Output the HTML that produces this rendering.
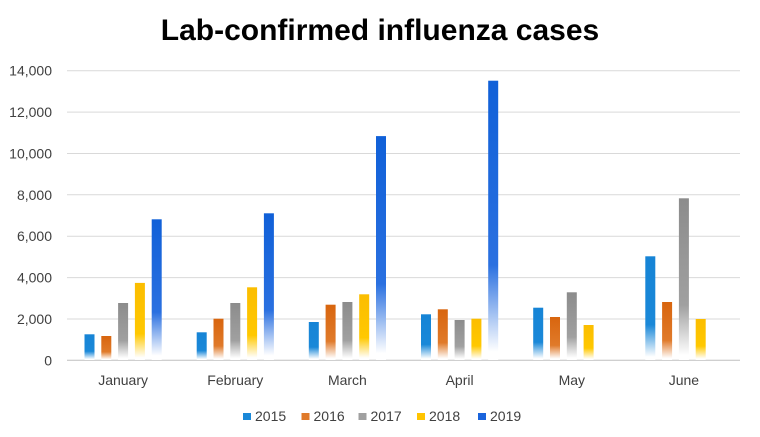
<!DOCTYPE html>
<html><head><meta charset="utf-8"><style>
html,body{margin:0;padding:0;background:#fff;}
svg{display:block;}
text{font-family:"Liberation Sans",Arial,sans-serif;}
</style></head><body>
<svg width="760" height="437" viewBox="0 0 760 437" xmlns="http://www.w3.org/2000/svg">
<defs>
<linearGradient id="g0" x1="0" y1="0" x2="0" y2="1"><stop offset="0" stop-color="#1684d6"/><stop offset="0.66" stop-color="#1a88d8"/><stop offset="0.97" stop-color="#ffffff"/></linearGradient>
<linearGradient id="g1" x1="0" y1="0" x2="0" y2="1"><stop offset="0" stop-color="#d8650e"/><stop offset="0.66" stop-color="#e07a2a"/><stop offset="0.97" stop-color="#ffffff"/></linearGradient>
<linearGradient id="g2" x1="0" y1="0" x2="0" y2="1"><stop offset="0" stop-color="#8c8c8c"/><stop offset="0.66" stop-color="#a0a0a0"/><stop offset="0.97" stop-color="#ffffff"/></linearGradient>
<linearGradient id="g3" x1="0" y1="0" x2="0" y2="1"><stop offset="0" stop-color="#fbbd00"/><stop offset="0.66" stop-color="#ffc800"/><stop offset="0.97" stop-color="#ffffff"/></linearGradient>
<linearGradient id="g4" x1="0" y1="0" x2="0" y2="1"><stop offset="0" stop-color="#1060d8"/><stop offset="0.66" stop-color="#2a70e0"/><stop offset="0.97" stop-color="#ffffff"/></linearGradient>
</defs>
<rect width="760" height="437" fill="#fff"/>
<text x="380" y="40" text-anchor="middle" font-size="30" font-weight="bold" fill="#000">Lab-confirmed influenza cases</text>
<g stroke="#d9d9d9" stroke-width="1">
<line x1="67" x2="740" y1="70.7" y2="70.7"/>
<line x1="67" x2="740" y1="112.1" y2="112.1"/>
<line x1="67" x2="740" y1="153.5" y2="153.5"/>
<line x1="67" x2="740" y1="194.8" y2="194.8"/>
<line x1="67" x2="740" y1="236.2" y2="236.2"/>
<line x1="67" x2="740" y1="277.6" y2="277.6"/>
<line x1="67" x2="740" y1="319" y2="319"/>
</g>
<line x1="67" x2="740" y1="360.3" y2="360.3" stroke="#bfbfbf" stroke-width="1"/>
<g font-size="14" fill="#404040" text-anchor="end">
<text x="52" y="75.7">14,000</text>
<text x="52" y="117.1">12,000</text>
<text x="52" y="158.5">10,000</text>
<text x="52" y="199.8">8,000</text>
<text x="52" y="241.2">6,000</text>
<text x="52" y="282.6">4,000</text>
<text x="52" y="324">2,000</text>
<text x="52" y="365.3">0</text>
</g>
<g>
<!-- January -->
<rect x="84.5" y="334.3" width="10" height="25.7" fill="url(#g0)"/>
<rect x="101.3" y="336" width="10" height="24" fill="url(#g1)"/>
<rect x="118.1" y="303" width="10" height="57" fill="url(#g2)"/>
<rect x="134.9" y="282.9" width="10" height="77.1" fill="url(#g3)"/>
<rect x="151.7" y="219.3" width="10" height="140.7" fill="url(#g4)"/>
<!-- February -->
<rect x="196.7" y="332.3" width="10" height="27.7" fill="url(#g0)"/>
<rect x="213.5" y="318.7" width="10" height="41.3" fill="url(#g1)"/>
<rect x="230.3" y="303" width="10" height="57" fill="url(#g2)"/>
<rect x="247.1" y="287.3" width="10" height="72.7" fill="url(#g3)"/>
<rect x="263.9" y="213.3" width="10" height="146.7" fill="url(#g4)"/>
<!-- March -->
<rect x="308.8" y="322" width="10" height="38" fill="url(#g0)"/>
<rect x="325.6" y="304.7" width="10" height="55.3" fill="url(#g1)"/>
<rect x="342.4" y="302" width="10" height="58" fill="url(#g2)"/>
<rect x="359.2" y="294.3" width="10" height="65.7" fill="url(#g3)"/>
<rect x="376" y="136.1" width="10" height="223.9" fill="url(#g4)"/>
<!-- April -->
<rect x="421" y="314.3" width="10" height="45.7" fill="url(#g0)"/>
<rect x="437.8" y="309.3" width="10" height="50.7" fill="url(#g1)"/>
<rect x="454.6" y="320" width="10" height="40" fill="url(#g2)"/>
<rect x="471.4" y="318.7" width="10" height="41.3" fill="url(#g3)"/>
<rect x="488.2" y="80.7" width="10" height="279.3" fill="url(#g4)"/>
<!-- May -->
<rect x="533.2" y="307.7" width="10" height="52.3" fill="url(#g0)"/>
<rect x="550" y="317" width="10" height="43" fill="url(#g1)"/>
<rect x="566.8" y="292.3" width="10" height="67.7" fill="url(#g2)"/>
<rect x="583.6" y="325" width="10" height="35" fill="url(#g3)"/>
<!-- June -->
<rect x="645.3" y="256.3" width="10" height="103.7" fill="url(#g0)"/>
<rect x="662.1" y="302" width="10" height="58" fill="url(#g1)"/>
<rect x="678.9" y="198.3" width="10" height="161.7" fill="url(#g2)"/>
<rect x="695.7" y="319" width="10" height="41" fill="url(#g3)"/>
</g>
<g font-size="14" fill="#404040" text-anchor="middle">
<text x="123.1" y="385">January</text>
<text x="235.3" y="385">February</text>
<text x="347.4" y="385">March</text>
<text x="459.6" y="385">April</text>
<text x="571.8" y="385">May</text>
<text x="683.9" y="385">June</text>
</g>
<g font-size="14" fill="#404040">
<rect x="243" y="413" width="8" height="7" fill="#1a88d8"/><text x="255" y="421">2015</text>
<rect x="301.5" y="413" width="8" height="7" fill="#e07a2a"/><text x="313.5" y="421">2016</text>
<rect x="358.5" y="413" width="8" height="7" fill="#a0a0a0"/><text x="370.5" y="421">2017</text>
<rect x="417" y="413" width="8" height="7" fill="#ffc400"/><text x="429" y="421">2018</text>
<rect x="478" y="413" width="8" height="7" fill="#1a64dc"/><text x="490" y="421">2019</text>
</g>
</svg>
</body></html>
